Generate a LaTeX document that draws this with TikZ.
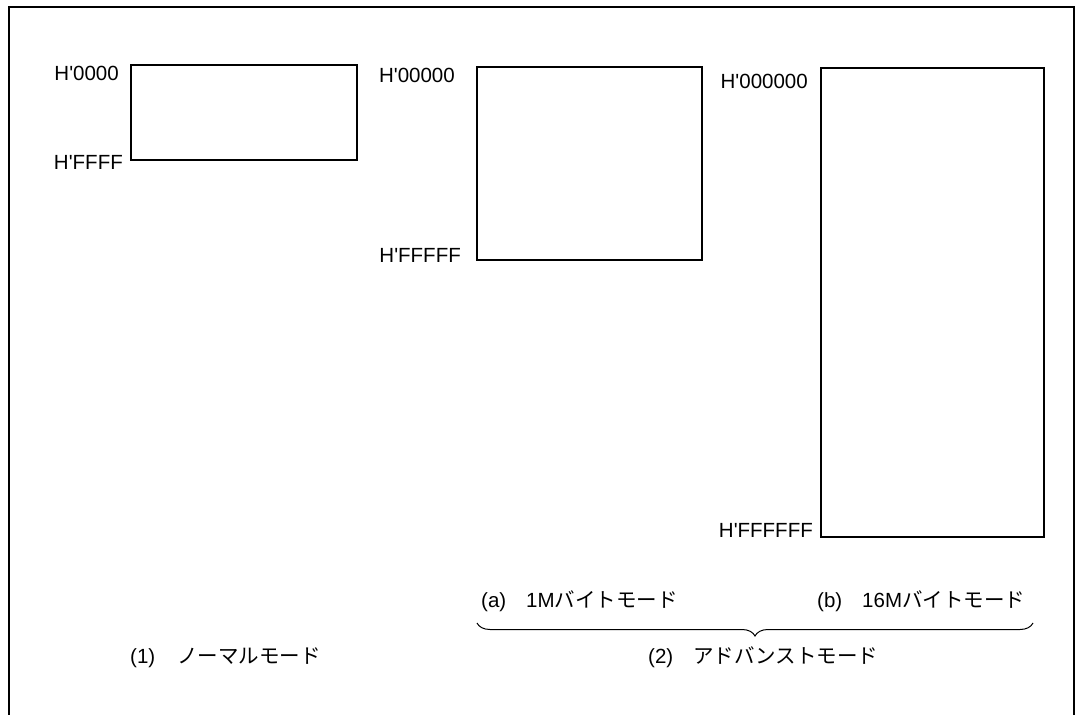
\documentclass[tikz,border=0pt]{standalone}
\usepackage{fontspec}
\newfontfamily\lat{Liberation Sans}
\newfontfamily\jp{Noto Sans CJK JP}
\usetikzlibrary{decorations.pathreplacing}
\begin{document}
\begin{tikzpicture}[x=1pt,y=-1pt,
  lbl/.style={inner sep=0pt,font=\lat\fontsize{20.5}{24}\selectfont},
  memblock/.style={draw,line width=2pt},
  frameline/.style={line width=1.4pt}]
\useasboundingbox (0,0) rectangle (1077,715);
% frame
\coordinate (fbl) at (9,715);
\coordinate (ftl) at (9,7);
\coordinate (ftr) at (1074,7);
\coordinate (fbr) at (1074,715);
\draw[frameline] (fbl) -- (ftl) -- (ftr) -- (fbr);
% memory blocks
\draw[memblock] (131,65) rectangle (357,160);
\draw[memblock] (477,67) rectangle (702,260);
\draw[memblock] (821,68) rectangle (1044,537);
% address labels
\node[lbl,anchor=base east] (a1) at (119,80) {H'0000};
\node[lbl,anchor=base east] (b1) at (123,169) {H'FFFF};
\node[lbl,anchor=base east] (a2) at (455,82) {H'00000};
\node[lbl,anchor=base east] (b2) at (461,262) {H'FFFFF};
\node[lbl,anchor=base east] (a3) at (808,88) {H'000000};
\node[lbl,anchor=base east] (b3) at (813,537) {H'FFFFFF};
% captions
\node[lbl,anchor=base west] (c1) at (130,663) {(1)\hspace{22pt}{\jp ノーマルモード}};
\node[lbl,anchor=base west] (ca) at (481,607) {(a)\hspace{20pt}1M{\jp バイトモード}};
\node[lbl,anchor=base west] (cb) at (817,607) {(b)\hspace{20pt}16M{\jp バイトモード}};
\node[lbl,anchor=base west] (c2) at (648,663) {(2)\hspace{20pt}{\jp アドバンストモード}};
% brace
\coordinate (brl) at (477,623);
\coordinate (brr) at (1033,623);
\draw[line width=1pt,decorate,decoration={brace,mirror,amplitude=13pt}] (brl) -- (brr);
\end{tikzpicture}
\end{document}
